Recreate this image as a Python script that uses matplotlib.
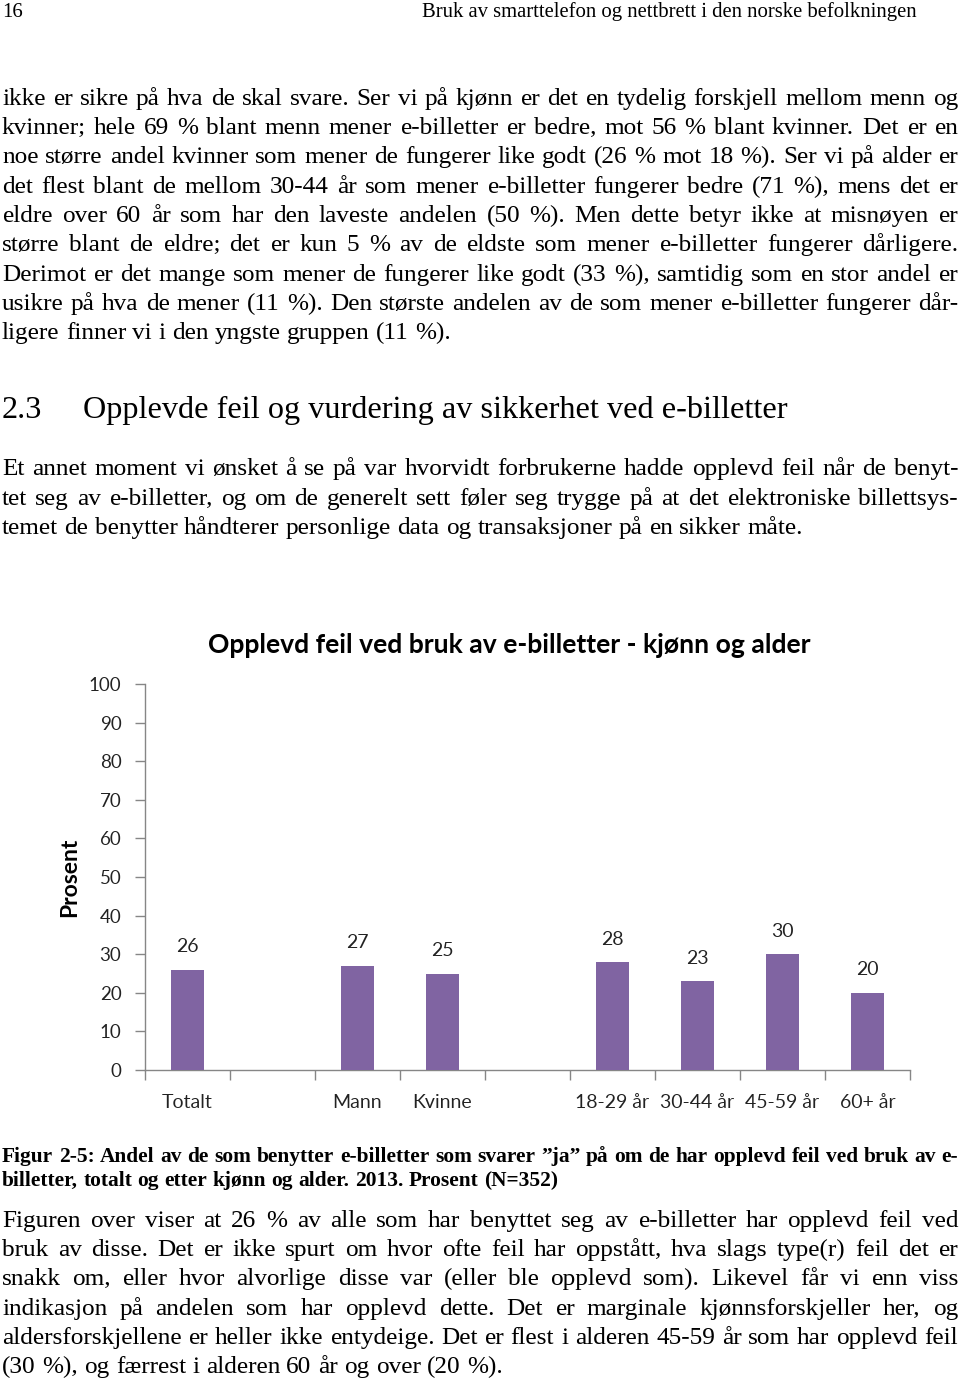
import matplotlib
matplotlib.use("Agg")
import matplotlib.pyplot as plt

plt.rcParams["text.hinting"] = "native"

W, H = 960, 1382

# ---------------- data ----------------
categories = ["Totalt", "", "Mann", "Kvinne", "", "18-29 år", "30-44 år", "45-59 år", "60+ år"]
values = [26, None, 27, 25, None, 28, 23, 30, 20]
yticks = [0, 10, 20, 30, 40, 50, 60, 70, 80, 90, 100]
chart_title = "Opplevd feil ved bruk av e-billetter - kjønn og alder"
ylabel = "Prosent"

header_left = "16"
header_right = "Bruk av smarttelefon og nettbrett i den norske befolkningen"

par1 = [
    "ikke er sikre på hva de skal svare. Ser vi på kjønn er det en tydelig forskjell mellom menn og",
    "kvinner; hele 69 % blant menn mener e-billetter er bedre, mot 56 % blant kvinner. Det er en",
    "noe større andel kvinner som mener de fungerer like godt (26 % mot 18 %). Ser vi på alder er",
    "det flest blant de mellom 30-44 år som mener e-billetter fungerer bedre (71 %), mens det er",
    "eldre over 60 år som har den laveste andelen (50 %). Men dette betyr ikke at misnøyen er",
    "større blant de eldre; det er kun 5 % av de eldste som mener e-billetter fungerer dårligere.",
    "Derimot er det mange som mener de fungerer like godt (33 %), samtidig som en stor andel er",
    "usikre på hva de mener (11 %). Den største andelen av de som mener e-billetter fungerer dår-",
    "ligere finner vi i den yngste gruppen (11 %).",
]
heading_num = "2.3"
heading_text = "Opplevde feil og vurdering av sikkerhet ved e-billetter"
par2 = [
    "Et annet moment vi ønsket å se på var hvorvidt forbrukerne hadde opplevd feil når de benyt-",
    "tet seg av e-billetter, og om de generelt sett føler seg trygge på at det elektroniske billettsys-",
    "temet de benytter håndterer personlige data og transaksjoner på en sikker måte.",
]
caption = [
    "Figur 2-5: Andel av de som benytter e-billetter som svarer ”ja” på om de har opplevd feil ved bruk av e-",
    "billetter, totalt og etter kjønn og alder. 2013. Prosent (N=352)",
]
par3 = [
    "Figuren over viser at 26 % av alle som har benyttet seg av e-billetter har opplevd feil ved",
    "bruk av disse. Det er ikke spurt om hvor ofte feil har oppstått, hva slags type(r) feil det er",
    "snakk om, eller hvor alvorlige disse var (eller ble opplevd som). Likevel får vi enn viss",
    "indikasjon på andelen som har opplevd dette. Det er marginale kjønnsforskjeller her, og",
    "aldersforskjellene er heller ikke entydeige. Det er flest i alderen 45-59 år som har opplevd feil",
    "(30 %), og færrest i alderen 60 år og over (20 %).",
]

SERIF = "Liberation Serif"
SANS = "Lato"
BAR_COLOR = "#8064A2"
AXIS_COLOR = "#868686"
LABEL_COLOR = "#222222"

fig = plt.figure(figsize=(W / 100, H / 100), dpi=100)
fig.patch.set_facecolor("white")
renderer = fig.canvas.get_renderer()


def fx(x):
    return x / W


def fy(y):
    return 1 - y / H


def text_width(s, size, **kw):
    t = fig.text(0, 0, s, fontsize=size, **kw)
    w = t.get_window_extent(renderer).width
    t.remove()
    return w


def fit_size(lines, target, base=15, **kw):
    return min(target * base / text_width(s, base, **kw) for s in lines)


LEFT, RIGHT = 2, 958


def draw_paragraph(lines, baselines, size, justify_last=False, **kw):
    space_w = text_width("a a", size, **kw) - text_width("aa", size, **kw)
    for i, (line, yb) in enumerate(zip(lines, baselines)):
        last = (i == len(lines) - 1) and not justify_last
        words = line.split(" ")
        widths = [text_width(w, size, **kw) for w in words]
        if last or len(words) == 1:
            gap = space_w
        else:
            gap = (RIGHT - LEFT - sum(widths)) / (len(words) - 1)
        x = LEFT
        for w, ww in zip(words, widths):
            fig.text(fx(x), fy(yb), w, fontsize=size, ha="left", va="baseline", **kw)
            x += ww + gap


body_kw = dict(family=SERIF, color="black")
body_size = fit_size(par1[:-1] + par2[:-1] + par3[:-1], RIGHT - LEFT - 4, **body_kw)

# header
hsize = fit_size([header_right], 497, **body_kw)
fig.text(fx(2), fy(17), header_left, fontsize=hsize, ha="left", va="baseline", **body_kw)
fig.text(fx(917), fy(17), header_right, fontsize=hsize, ha="right", va="baseline", **body_kw)

OFF = 8
draw_paragraph(par1, [c + OFF for c in [97, 126, 155, 185, 214, 243, 273, 302, 331]], body_size, **body_kw)

head_size = fit_size([heading_text], 707, **body_kw)
fig.text(fx(2), fy(418), heading_num, fontsize=head_size, ha="left", va="baseline", **body_kw)
fig.text(fx(83), fy(418), heading_text, fontsize=head_size, ha="left", va="baseline", **body_kw)

draw_paragraph(par2, [c + OFF for c in [467, 497, 526]], body_size, **body_kw)

cap_kw = dict(family=SERIF, color="black", weight="bold")
cap_size = fit_size([caption[0]], RIGHT - LEFT - 4, **cap_kw)
draw_paragraph(caption, [1162, 1186], cap_size, **cap_kw)

draw_paragraph(par3, [c + OFF for c in [1219, 1248, 1277, 1307, 1336, 1365]], body_size, **body_kw)

# ---------------- chart ----------------
ax_left, ax_right, ax_top, ax_bottom = 145, 910, 684, 1070
ax = fig.add_axes([fx(ax_left), fy(ax_bottom), (ax_right - ax_left) / W, (ax_bottom - ax_top) / H])
ax.set_facecolor("none")

pos = [i for i, v in enumerate(values) if v is not None]
vals = [v for v in values if v is not None]
ax.bar(pos, vals, width=0.39, color=BAR_COLOR, zorder=3)
ax.set_xlim(-0.5, len(categories) - 0.5)
ax.set_ylim(0, 100)
ax.set_yticks(yticks)
ax.set_yticklabels([str(t) for t in yticks], family=SANS, fontsize=13.5, color=LABEL_COLOR)

ax.set_xticks(range(len(categories)))
ax.set_xticklabels(categories, family=SANS, fontsize=14, color=LABEL_COLOR)
ax.tick_params(axis="x", which="major", length=0, pad=17)
ax.set_xticks([i - 0.5 for i in range(len(categories) + 1)], minor=True)
ax.tick_params(axis="x", which="minor", length=7, width=1, color=AXIS_COLOR, direction="out")
ax.tick_params(axis="y", length=7, width=1, color=AXIS_COLOR, direction="out", pad=10)

for s in ["top", "right"]:
    ax.spines[s].set_visible(False)
for s in ["left", "bottom"]:
    ax.spines[s].set_color(AXIS_COLOR)
    ax.spines[s].set_linewidth(1)

for p, v in zip(pos, vals):
    ax.annotate(str(v), (p, v), xytext=(0, 16.5), textcoords="offset points",
                ha="center", va="center", family=SANS, fontsize=14, color=LABEL_COLOR)

title_size = fit_size([chart_title], 604, family=SANS, weight="bold")
fig.text(fx(509), fy(645), chart_title, fontsize=title_size, family=SANS, weight="bold",
         ha="center", va="center", color="black")
fig.text(fx(70), fy(877), ylabel, fontsize=16.5, family=SANS, weight="bold",
         rotation=90, ha="center", va="center", color="black")

fig.savefig("out.png", dpi=100, facecolor="white")
